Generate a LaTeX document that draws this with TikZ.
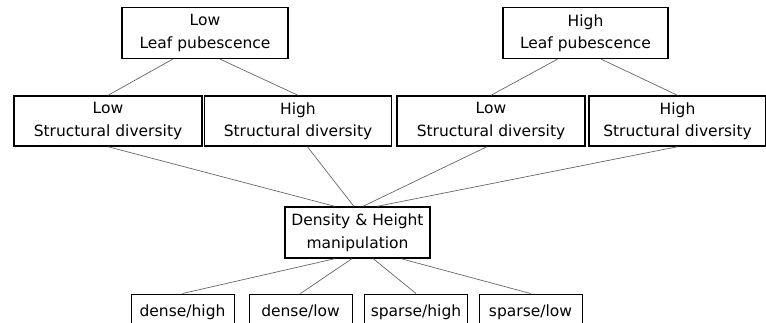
\documentclass[tikz,border=0pt]{standalone}
\usepackage{fontspec}
\setmainfont{DejaVu Sans}

\begin{document}
\begin{tikzpicture}[x=1pt,y=-1pt,
    box/.style={draw,line width=1.4pt,align=center,inner sep=0pt,minimum height=51pt,
        font=\fontsize{15.5}{22.5}\selectfont},
    leaf/.style={draw,line width=1pt,inner sep=0pt,minimum width=103pt,minimum height=36pt,
        text height=12pt,text depth=4pt,font=\fontsize{15.5}{22.5}\selectfont},
    link/.style={draw=black!60,line width=0.7pt}]
    \useasboundingbox (0,0) rectangle (766,322);
    \node[box,minimum width=166pt] (lowLP) at (205,33) {Low\\Leaf pubescence};
    \node[box,minimum width=165pt] (highLP) at (585.5,33) {High\\Leaf pubescence};
    \node[box,minimum width=188pt,minimum height=50pt] (sdA) at (108,121) {Low\\Structural diversity};
    \node[box,minimum width=187pt,minimum height=50pt] (sdB) at (298,121) {High\\Structural diversity};
    \node[box,minimum width=188pt,minimum height=50pt] (sdC) at (491,121) {Low\\Structural diversity};
    \node[box,minimum width=177pt,minimum height=50pt] (sdD) at (677.5,121) {High\\Structural diversity};
    \node[box,minimum width=145pt] (manip) at (357.5,232.5) {Density \& Height\\manipulation};
    \node[leaf] (dh) at (182.5,312) {dense/high};
    \node[leaf] (dl) at (300.5,312) {dense/low};
    \node[leaf] (sh) at (416,312) {sparse/high};
    \node[leaf] (sl) at (530.5,312) {sparse/low};
    \draw[link] (lowLP.219) -- (sdA.north);
    \draw[link] (lowLP.300) -- (sdB.north);
    \draw[link] (highLP.223) -- (sdC.north);
    \draw[link] (highLP.301) -- (sdD.north);
    \draw[link] (sdA.south) -- (manip.131);
    \draw[link] (sdB.290) -- (manip.98);
    \draw[link] (sdC.261) -- (manip.78);
    \draw[link] (sdD.south) -- (manip.53);
    \draw[link] (manip.229) -- (dh.north);
    \draw[link] (manip.258) -- (dl.north);
    \draw[link] (manip.301) -- (sh.north);
    \draw[link] (manip.329) -- (sl.north);
\end{tikzpicture}
\end{document}
